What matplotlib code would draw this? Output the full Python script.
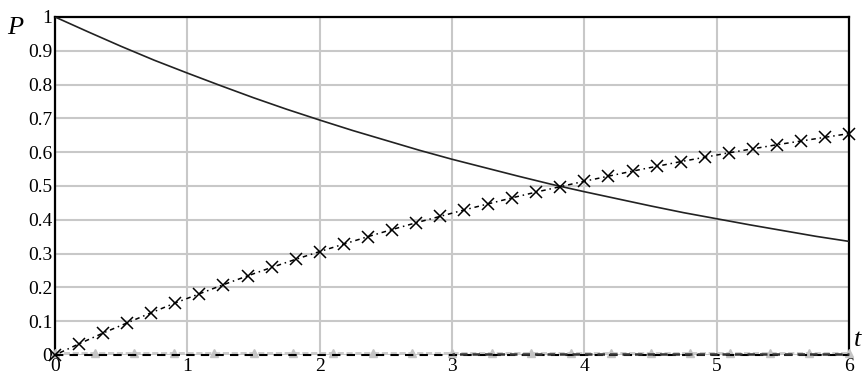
import numpy as np
import matplotlib
matplotlib.use("Agg")
import matplotlib.pyplot as plt

# solid curve, read every 0.25
t_solid = [0, 0.25, 0.5, 0.75, 1, 1.25, 1.5, 1.75, 2, 2.25, 2.5, 2.75, 3,
           3.25, 3.5, 3.75, 4, 4.25, 4.5, 4.75, 5, 5.25, 5.5, 5.75, 6]
p_solid = [1.000, 0.956, 0.913, 0.872, 0.834, 0.797, 0.761, 0.727, 0.695,
           0.664, 0.635, 0.606, 0.579, 0.554, 0.529, 0.505, 0.483, 0.462,
           0.441, 0.421, 0.403, 0.385, 0.368, 0.351, 0.336]

# crosses, 34 points from 0 to 6
t_cross = list(np.linspace(0, 6, 34))
p_cross = [0.000, 0.033, 0.065, 0.095, 0.125, 0.154, 0.181, 0.208, 0.234,
           0.259, 0.283, 0.306, 0.328, 0.350, 0.371, 0.391, 0.410, 0.429,
           0.447, 0.465, 0.482, 0.498, 0.514, 0.529, 0.544, 0.558, 0.572,
           0.585, 0.598, 0.610, 0.622, 0.633, 0.644, 0.655]

# near-zero series
t_zero = [0, 6]
p_zero = [0.0, 0.0]
t_tri = [0, 0.3, 0.6, 0.9, 1.2, 1.5, 1.8, 2.1, 2.4, 2.7, 3.0, 3.3, 3.6,
         3.9, 4.2, 4.5, 4.8, 5.1, 5.4, 5.7, 6.0]
p_tri = [0.005] * 21
t_late = [3.0, 6.0]
p_late = [0.004, 0.004]

fig = plt.figure(figsize=(8.65, 3.77), dpi=100)
ax = fig.add_axes([0.0636, 0.0584, 0.918, 0.8966])

ax.plot(t_tri, p_tri, color='#c4c4c4', lw=1.2, ls='--', marker='^', ms=5.5,
        mec='#c4c4c4', mfc='#c4c4c4', zorder=3, clip_on=False)
ax.plot(t_zero, p_zero, color='black', lw=1.5, ls=(0, (4, 3)), zorder=4,
        clip_on=False)
ax.plot(t_late, p_late, color='#333333', lw=1.8, ls=(2, (3, 2)), zorder=4,
        clip_on=False)
ax.plot(t_solid, p_solid, color='#222222', lw=1.2, zorder=5)
ax.plot(t_cross, p_cross, color='black', lw=1.1, ls=(0, (1, 2.5, 3, 2.5)),
        marker='x', ms=8, mew=1.1, zorder=5, clip_on=False)

ax.set_xlim(0, 6)
ax.set_ylim(0, 1)
ax.set_xticks(range(7))
ax.set_yticks(np.arange(0, 1.01, 0.1))
ax.set_xticklabels([str(i) for i in range(7)])
ax.set_yticklabels(['0'] + ['%.1f' % v for v in np.arange(0.1, 0.95, 0.1)] + ['1'])
ax.grid(True, color='#c8c8c8', lw=1.5)
ax.set_axisbelow(True)
ax.tick_params(length=0, labelsize=14, pad=2)
for lab in ax.get_xticklabels() + ax.get_yticklabels():
    lab.set_family('Liberation Serif')

for s in ['top', 'left', 'right']:
    ax.spines[s].set_linewidth(1.6)
ax.spines['bottom'].set_visible(False)

fig.text(15 / 865, 1 - 28 / 377, 'P', family='Liberation Serif',
         style='italic', fontsize=19, ha='center', va='center')
fig.text(858 / 865, 1 - 340 / 377, 't', family='Liberation Serif',
         style='italic', fontsize=19, ha='center', va='center')

fig.savefig('out.png', dpi=100)
